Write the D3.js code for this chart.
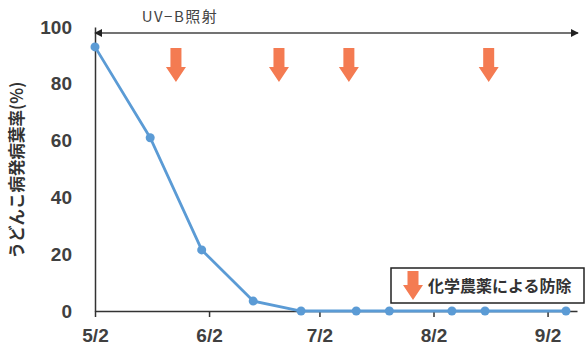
<!DOCTYPE html>
<html><head><meta charset="utf-8">
<script src="https://cdn.jsdelivr.net/npm/d3@7"></script>
<style>body{margin:0;background:#fff}svg{display:block}</style>
</head><body>
<script>
const obsDates = ["2020-05-02","2020-05-17","2020-05-31","2020-06-14","2020-06-27","2020-07-12","2020-07-21","2020-08-07","2020-08-16","2020-09-07"];
const obsValues = [93, 61, 21.5, 3.5, 0, 0, 0, 0, 0, 0];
const sprayDates = ["2020-05-24","2020-06-21","2020-07-10","2020-08-17"];
const xTickDates = ["2020-05-02","2020-06-02","2020-07-02","2020-08-02","2020-09-02"];
const xTickLabels = ["5/2","6/2","7/2","8/2","9/2"];
const yTicks = [0,20,40,60,80,100];
const yLabel = "うどんこ病発病葉率(%)";
const uvLabel = "UV−B照射";
const legendLabel = "化学農薬による防除";

const W=587,H=357;
const parse=d3.timeParse("%Y-%m-%d");
const svg=d3.select("body").append("svg").attr("width",W).attr("height",H);
const x=d3.scaleTime().domain([parse("2020-05-02"),parse("2020-09-10")]).range([95,577]);
const y=d3.scaleLinear().domain([0,100]).range([311,27]);
const font="'Liberation Sans', Arial, sans-serif";
const txt="#404040";

// axes
const xAxis=d3.axisBottom(x).tickValues(xTickDates.map(parse)).tickFormat((d,i)=>xTickLabels[i]).tickSize(6).tickSizeOuter(0).tickPadding(12);
const gx=svg.append("g").attr("transform","translate(0,311)").call(xAxis);
gx.select(".domain").attr("stroke","#333").attr("stroke-width",1.5);
gx.selectAll(".tick line").attr("stroke","#333").attr("stroke-width",1.5);
gx.selectAll("text").attr("font-family",font).attr("font-size",19).attr("font-weight","bold").attr("fill",txt);

const yAxis=d3.axisLeft(y).tickValues(yTicks).tickSize(0).tickPadding(23);
const gy=svg.append("g").attr("transform","translate(95,0)").call(yAxis);
gy.select(".domain").attr("stroke","#333").attr("stroke-width",1.5);
gy.selectAll("text").attr("font-family",font).attr("font-size",19).attr("font-weight","bold").attr("fill",txt);

// y label
svg.append("text").attr("transform","translate(23,170) rotate(-90)").attr("text-anchor","middle")
 .attr("font-family","'Noto Sans CJK JP', sans-serif").attr("font-size",16.5).attr("font-weight","bold").attr("fill","#333").text(yLabel);

// UV-B arrow
const defs=svg.append("defs");
defs.append("marker").attr("id","ah").attr("viewBox","0 0 10 10").attr("refX",9).attr("refY",5)
 .attr("markerWidth",8).attr("markerHeight",8).attr("orient","auto-start-reverse").attr("markerUnits","userSpaceOnUse")
 .append("path").attr("d","M0,0L10,5L0,10z").attr("fill","#222");
svg.append("line").attr("x1",x(parse("2020-05-02"))).attr("x2",578).attr("y1",33).attr("y2",33)
 .attr("stroke","#444").attr("stroke-width",1.3).attr("marker-start","url(#ah)").attr("marker-end","url(#ah)");
svg.append("text").attr("x",180).attr("y",22).attr("text-anchor","middle").attr("font-family","'Noto Sans CJK JP', sans-serif")
 .attr("font-size",15).attr("letter-spacing",1.5).attr("fill","#444").text(uvLabel);

// orange arrows
const orange="#f47b52";
function arrow(cx,top,bot){
  const sw=5.5, hw=10, hh=15;
  return `M${cx-sw},${top}L${cx+sw},${top}L${cx+sw},${bot-hh}L${cx+hw},${bot-hh}L${cx},${bot}L${cx-hw},${bot-hh}L${cx-sw},${bot-hh}Z`;
}
svg.selectAll(".spray").data(sprayDates).enter().append("path").attr("class","spray")
 .attr("d",d=>arrow(x(parse(d)),48,82)).attr("fill",orange);

// line
const pts=obsDates.map((d,i)=>({d:parse(d),v:obsValues[i]}));
const blue="#5b9bd5";
svg.append("path").datum(pts).attr("fill","none").attr("stroke",blue).attr("stroke-width",2.8)
 .attr("d",d3.line().x(p=>x(p.d)).y(p=>y(p.v)));
svg.selectAll(".pt").data(pts).enter().append("circle").attr("cx",p=>x(p.d)).attr("cy",p=>y(p.v)).attr("r",4.5).attr("fill",blue);

// legend
svg.append("rect").attr("x",391).attr("y",268).attr("width",193).attr("height",35).attr("fill","#fff").attr("stroke","#222").attr("stroke-width",1.5);
svg.append("path").attr("d",arrow(413,271,300)).attr("fill",orange);
svg.append("text").attr("x",428).attr("y",292).attr("font-family","'Noto Sans CJK JP', sans-serif").attr("font-size",16).attr("font-weight","bold").attr("fill","#333").text(legendLabel);
</script>
</body></html>
